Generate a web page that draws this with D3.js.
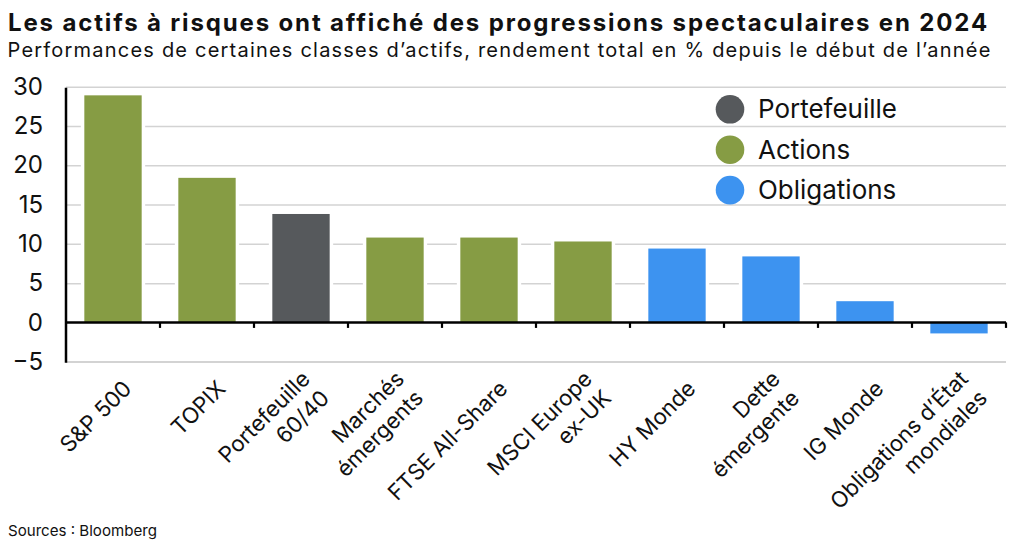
<!DOCTYPE html>
<html>
<head>
<meta charset="utf-8">
<script src="https://cdn.jsdelivr.net/npm/d3@7"></script>
<style>
  html, body { margin: 0; padding: 0; background: #ffffff; }
  svg { display: block; }
  text { font-family: Inter, "Noto Sans", "DejaVu Sans", sans-serif; fill: #111; }
</style>
</head>
<body>
<svg id="chart" width="1024" height="551"></svg>
<script>
// ---------------- DATA ----------------
const categories = [
  "S&P 500", "TOPIX", "Portefeuille\n60/40", "Marchés\némergents", "FTSE All-Share",
  "MSCI Europe\nex-UK", "HY Monde", "Dette\némergente", "IG Monde", "Obligations d’État\nmondiales"
];
const values = [28.9, 18.4, 13.8, 10.8, 10.8, 10.3, 9.4, 8.4, 2.7, -1.4];
const groups = [
  "Actions", "Actions", "Portefeuille", "Actions", "Actions",
  "Actions", "Obligations", "Obligations", "Obligations", "Obligations"
];
const legendItems = ["Portefeuille", "Actions", "Obligations"];
const legendColors = ["#56595c", "#869c44", "#3d93f0"];
const yTicks = [-5, 0, 5, 10, 15, 20, 25, 30];
const titleText = "Les actifs à risques ont affiché des progressions spectaculaires en 2024";
const subtitleText = "Performances de certaines classes d’actifs, rendement total en % depuis le début de l’année";
const sourceText = "Sources : Bloomberg";

// ---------------- SETUP ----------------
(function () {
const svg = d3.select("#chart");
const pLeft = 66, pRight = 1006, pTop = 86.7, pBottom = 361.7;

const x = d3.scaleBand().domain(categories).range([pLeft, pRight]).paddingInner(0.39).paddingOuter(0.195);
const y = d3.scaleLinear().domain([-5, 30]).range([pBottom, pTop]);
const color = d3.scaleOrdinal().domain(legendItems).range(legendColors);

function fitText(sel, target) {
  const node = sel.node();
  const base = parseFloat(sel.attr("font-size"));
  const w = node.getComputedTextLength();
  sel.attr("font-size", (base * target / w).toFixed(2));
}
function spaceText(sel, target) {
  const node = sel.node();
  const w = node.getComputedTextLength();
  const n = node.textContent.length;
  sel.attr("letter-spacing", ((target - w) / n).toFixed(3));
}

// Title & subtitle
const title = svg.append("text").attr("x", 8).attr("y", 31)
  .attr("font-size", 24).attr("font-weight", 700).text(titleText);
spaceText(title, 981);
const subtitle = svg.append("text").attr("x", 7.5).attr("y", 57)
  .attr("font-size", 20).attr("font-weight", 400).attr("fill", "#1a1a1a").text(subtitleText);
spaceText(subtitle, 984);

// Gridlines
const grid = svg.append("g").attr("transform", `translate(${pLeft},0)`)
  .call(d3.axisLeft(y).tickValues(yTicks.filter(v => v !== 0)).tickSize(-(pRight - pLeft)).tickFormat(""));
grid.select(".domain").remove();
grid.selectAll("line").attr("stroke", "#d3d3d3").attr("stroke-width", 1.5);

// Y tick labels
const yAxis = svg.append("g").attr("transform", `translate(43,0)`)
  .call(d3.axisLeft(y).tickValues(yTicks).tickSize(0).tickPadding(0));
yAxis.select(".domain").remove();
yAxis.selectAll("text").attr("font-size", 22).attr("fill", "#111")
  .attr("font-family", "Inter, 'Noto Sans', sans-serif");
const t30 = yAxis.selectAll("text").filter(d => d === 30);
const s = parseFloat(t30.attr("font-size")) * 30 / t30.node().getComputedTextLength();
yAxis.selectAll("text").attr("font-size", s.toFixed(2));

// Legend
const legend = svg.append("g");
legendItems.forEach((name, i) => {
  const cy = 109.3 + i * 40.4;
  legend.append("circle").attr("cx", 730).attr("cy", cy).attr("r", 14.3).attr("fill", color(name));
  legend.append("text").attr("class", "leg").attr("x", 758).attr("y", cy + 9)
    .attr("font-size", 24).attr("fill", "#111").text(name);
});
{
  const l0 = legend.select("text.leg");
  const ls = parseFloat(l0.attr("font-size")) * 139 / l0.node().getComputedTextLength();
  legend.selectAll("text.leg").attr("font-size", ls.toFixed(2));
}

// Bars with white halo
const data = categories.map((c, i) => ({ c, v: values[i], g: groups[i] }));
svg.append("g").selectAll("rect").data(data).join("rect")
  .attr("x", d => x(d.c) - 3.5)
  .attr("width", x.bandwidth() + 7)
  .attr("y", d => y(Math.max(0, d.v)) - 3.5)
  .attr("height", d => Math.abs(y(d.v) - y(0)) + 7)
  .attr("fill", "#fff");
svg.append("g").selectAll("rect").data(data).join("rect")
  .attr("x", d => x(d.c))
  .attr("width", x.bandwidth())
  .attr("y", d => y(Math.max(0, d.v)))
  .attr("height", d => Math.abs(y(d.v) - y(0)))
  .attr("fill", d => color(d.g));

// Bottom gridline (-5) redrawn over halos
svg.append("line").attr("x1", pLeft).attr("x2", pRight).attr("y1", y(-5)).attr("y2", y(-5))
  .attr("stroke", "#d3d3d3").attr("stroke-width", 1.5);

// Axes lines
const step = x.step();
const boundaries = d3.range(1, categories.length + 1).map(i => pLeft + i * step);
svg.append("line").attr("x1", pLeft).attr("x2", pRight).attr("y1", y(0)).attr("y2", y(0))
  .attr("stroke", "#000").attr("stroke-width", 2.5);
svg.append("g").selectAll("line").data(boundaries).join("line")
  .attr("x1", d => d).attr("x2", d => d).attr("y1", y(0)).attr("y2", y(0) + 5.5)
  .attr("stroke", "#000").attr("stroke-width", 2.2);
svg.append("line").attr("x1", pLeft).attr("x2", pLeft).attr("y1", pTop + 1).attr("y2", pBottom + 1)
  .attr("stroke", "#000").attr("stroke-width", 2.5);

// X labels, rotated -45, end-anchored
const xl = svg.append("g");
const lh = 27;
const xfs = 21;
categories.forEach((c) => {
  const lines = c.split("\n");
  const cx = x(c) + x.bandwidth() / 2 + 20;
  const g = xl.append("g").attr("transform", `translate(${cx},390) rotate(-45)`);
  lines.forEach((ln, k) => {
    g.append("text").attr("class", "xl").attr("x", 0).attr("y", (k - (lines.length - 1) / 2) * lh)
      .attr("text-anchor", "end").attr("font-size", xfs).attr("fill", "#1a1a1a").text(ln);
  });
});
{
  const ft = xl.selectAll("text.xl").filter(function () { return this.textContent === "FTSE All-Share"; });
  const fs = xfs * 158 / ft.node().getComputedTextLength();
  xl.selectAll("text.xl").attr("font-size", fs.toFixed(2));
}

// Source
const src = svg.append("text").attr("x", 8).attr("y", 536).attr("font-size", 14)
  .attr("fill", "#222").text(sourceText);
fitText(src, 149);
})();
</script>
</body>
</html>
